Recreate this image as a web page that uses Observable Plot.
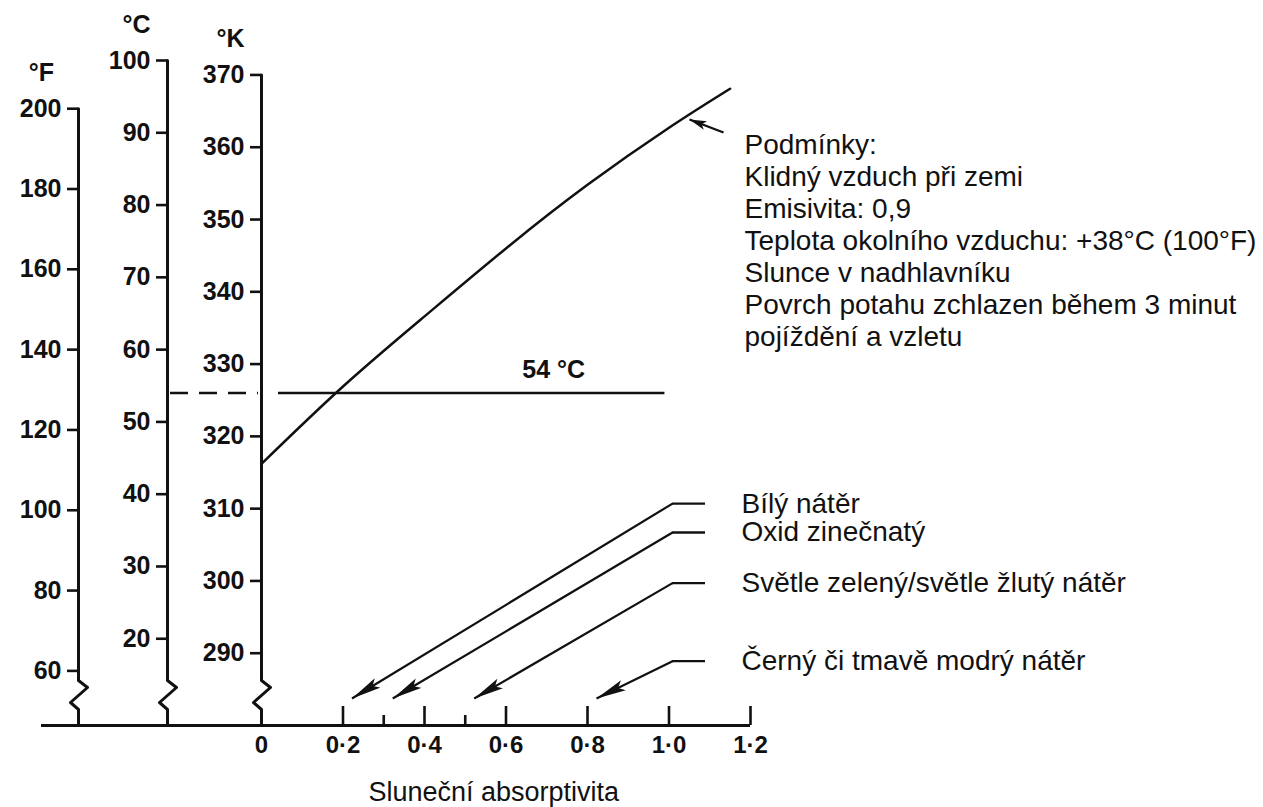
<!DOCTYPE html>
<html>
<head>
<meta charset="utf-8">
<script src="https://cdn.jsdelivr.net/npm/d3@7"></script>
<script src="https://cdn.jsdelivr.net/npm/@observablehq/plot@0.6"></script>
<style>
  html, body { margin: 0; padding: 0; background: #fff; overflow: hidden; }
  #chart svg { display: block; }
</style>
</head>
<body>
<div id="chart"></div>
<script>
// ---------------- DATA ----------------
const absorptivityTicks = [0, 0.2, 0.4, 0.6, 0.8, 1.0, 1.2];
const absorptivityTickLabels = ["0", "0·2", "0·4", "0·6", "0·8", "1·0", "1·2"];
const fahrenheitTicks = [60, 80, 100, 120, 140, 160, 180, 200];
const celsiusTicks = [20, 30, 40, 50, 60, 70, 80, 90, 100];
const kelvinTicks = [290, 300, 310, 320, 330, 340, 350, 360, 370];

// surface temperature curve (read on the °K scale)
const curveAbsorptivity = [0, 0.2, 0.4, 0.6, 0.8, 1.0, 1.15];
const curveKelvin = [316.2, 326.9, 336.6, 346.0, 354.8, 362.7, 368.1];

const limitCelsius = 54;

const materials = ["Bílý nátěr", "Oxid zinečnatý", "Světle zelený/světle žlutý nátěr", "Černý či tmavě modrý nátěr"];
const materialAbsorptivity = [0.2, 0.3, 0.5, 0.8];

const conditions = [
  "Podmínky:",
  "Klidný vzduch při zemi",
  "Emisivita: 0,9",
  "Teplota okolního vzduchu: +38°C (100°F)",
  "Slunce v nadhlavníku",
  "Povrch potahu zchlazen během 3 minut",
  "pojíždění a vzletu"
];
const axisTitle = "Sluneční absorptivita";

// ---------------- LAYOUT ----------------
const xDomain = [0, 1.2], xRange = [261, 750];
const yDomain = [8, 100], yRange = [725, 60];   // y scale in °C
const PX = (xDomain[1] - xDomain[0]) / (xRange[1] - xRange[0]); // absorptivity units per pixel
const PY = (yDomain[1] - yDomain[0]) / (yRange[0] - yRange[1]); // °C per pixel
const base = yDomain[0];
const fToC = f => (f - 32) / 1.8;
const kToC = k => k - 272; // alignment of the °K scale as drawn in the original

const axes = [
  {name: "°F", x: -183 * PX, ticks: fahrenheitTicks, toC: fToC, unitDx: -37},
  {name: "°C", x: -94 * PX, ticks: celsiusTicks, toC: c => c, unitDx: -31},
  {name: "°K", x: 0, ticks: kelvinTicks, toC: kToC, unitDx: -31}
];
const tickLen = 11 * PX;
const labelRowsC = [38.7, 34.7, 27.7, 16.9];
const stubStart = 672 - 261, stubEnd = 705 - 261, labelCol = 741 - 261;

const FONT = "'Liberation Sans', Arial, Helvetica, sans-serif";
const INK = "#111";

// ---------------- DERIVED TABLES ----------------
const axisTicks = axes.flatMap(a => a.ticks.map(t => ({axis: a.name, x: a.x, y: a.toC(t), label: String(t)})));
const axisLines = axes.flatMap(a => {
  const top = a.toC(d3.max(a.ticks));
  return [
    [a.x, top], [a.x, base + 45 * PY], [a.x + 9 * PX, base + 38 * PY],
    [a.x - 8 * PX, base + 23 * PY], [a.x, base + 16 * PY], [a.x, base]
  ].map(([x, y]) => ({axis: a.name, x, y}));
});
const curve = curveAbsorptivity.map((a, i) => ({a, c: kToC(curveKelvin[i])}));
const rows = materials.map((name, i) => ({name, value: materialAbsorptivity[i], y: labelRowsC[i]}));
const minorTicks = materialAbsorptivity.filter(v => !absorptivityTicks.some(t => Math.abs(t - v) < 1e-9));
const xLabels = absorptivityTicks.map((v, i) => ({v, label: absorptivityTickLabels[i]}));

const unitMarks = axes.map(a =>
  Plot.text([a.name], {x: a.x, y: a.toC(d3.max(a.ticks)), text: d => d, dx: a.unitDx, dy: -36,
    fontSize: 25, fontWeight: "bold", fill: INK}));

const plot = Plot.plot({
  width: 1263,
  height: 807,
  style: {fontFamily: FONT, background: "#fff", color: INK, overflow: "visible"},
  x: {domain: xDomain, range: xRange, axis: null},
  y: {domain: yDomain, range: yRange, axis: null},
  marks: [
    // vertical temperature axes with breaks
    Plot.line(axisLines, {x: "x", y: "y", z: "axis", stroke: INK, strokeWidth: 3, strokeLinejoin: "round"}),
    Plot.ruleY(axisTicks, {y: "y", x1: d => d.x - tickLen, x2: "x", stroke: INK, strokeWidth: 2.6}),
    Plot.text(axisTicks, {x: "x", y: "y", text: "label", dx: -17, textAnchor: "end", fontSize: 25, fontWeight: "bold", fill: INK}),
    ...unitMarks,
    // horizontal absorptivity axis
    Plot.ruleY([base], {x1: -220 * PX, x2: xDomain[1], stroke: INK, strokeWidth: 2.8}),
    Plot.ruleX(absorptivityTicks.filter(v => v > 0), {x: d => d, y1: base, y2: base + 19 * PY, stroke: INK, strokeWidth: 2.6}),
    Plot.ruleX(minorTicks, {x: d => d, y1: base, y2: base + 10 * PY, stroke: INK, strokeWidth: 2.6}),
    Plot.text(xLabels, {x: "v", y: base, text: "label", dy: 20, fontSize: 24, fontWeight: "bold", fill: INK}),
    Plot.text([axisTitle], {x: 0.57, y: base, text: d => d, dy: 67, fontSize: 27, fill: INK}),
    // 54 °C limit
    Plot.ruleY([limitCelsius], {x1: axes[1].x + 3 * PX, x2: -3 * PX, stroke: INK, strokeWidth: 2.4, strokeDasharray: "18,11"}),
    Plot.ruleY([limitCelsius], {x1: 17 * PX, x2: 0.99, stroke: INK, strokeWidth: 2.4}),
    Plot.text([limitCelsius], {x: 0.717, y: d => d, dy: -23, text: d => `${d} °C`, fontSize: 25, fontWeight: "bold", fill: INK}),
    // temperature curve
    Plot.line(curve, {x: "a", y: "c", curve: "natural", stroke: INK, strokeWidth: 2.5}),
    // conditions pointer + text
    Plot.link([0], {x1: (723 - 261) * PX, y1: base + (725 - 132) * PY, x2: (689 - 261) * PX, y2: base + (725 - 119) * PY,
      stroke: INK, strokeWidth: 2.4}),
    Plot.text([conditions.join("\n")], {x: (744 - 261) * PX, y: base + (725 - 131) * PY, text: d => d,
      textAnchor: "start", lineAnchor: "top", lineHeight: 32 / 28, fontSize: 28, fill: INK}),
    // material leaders
    Plot.ruleY(rows, {y: "y", x1: stubStart * PX, x2: stubEnd * PX, stroke: INK, strokeWidth: 2.4}),
    Plot.link(rows, {x1: stubStart * PX, y1: "y", x2: d => d.value + 9 * PX, y2: base + 27 * PY,
      stroke: INK, strokeWidth: 2.2}),
    Plot.text(rows, {x: labelCol * PX, y: "y", text: "name", textAnchor: "start", fontSize: 28, fill: INK})
  ]
});

// filled arrowheads on the leader lines
const svg = d3.select(plot);
const defs = svg.insert("defs", ":first-child");
defs.append("marker").attr("id", "headLong")
  .attr("viewBox", "0 0 30 12").attr("refX", 30).attr("refY", 6)
  .attr("markerWidth", 30).attr("markerHeight", 12).attr("markerUnits", "userSpaceOnUse").attr("orient", "auto")
  .append("path").attr("d", "M0,0.5L30,6L0,11.5L6,6Z").attr("fill", INK);
defs.append("marker").attr("id", "headShort")
  .attr("viewBox", "0 0 17 10").attr("refX", 17).attr("refY", 5)
  .attr("markerWidth", 17).attr("markerHeight", 10).attr("markerUnits", "userSpaceOnUse").attr("orient", "auto")
  .append("path").attr("d", "M0,0.5L17,5L0,9.5L4,5Z").attr("fill", INK);
const linkGroups = svg.selectAll('g[aria-label="link"]').nodes();
if (linkGroups[0]) d3.select(linkGroups[0]).selectAll("path").attr("marker-end", "url(#headShort)");
if (linkGroups[1]) d3.select(linkGroups[1]).selectAll("path").attr("marker-end", "url(#headLong)");

document.getElementById("chart").appendChild(plot);
</script>
</body>
</html>
